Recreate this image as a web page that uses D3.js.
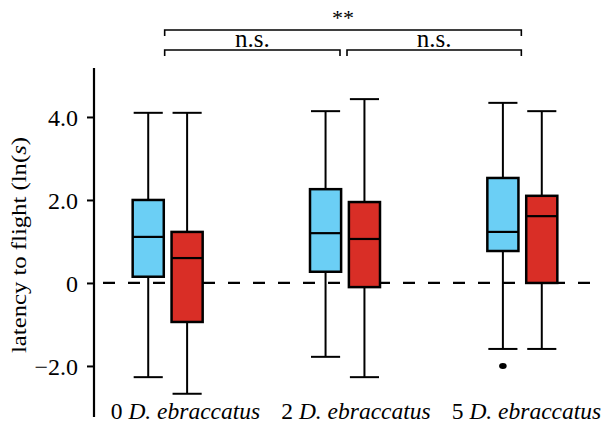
<!DOCTYPE html>
<html><head><meta charset="utf-8">
<script src="https://cdn.jsdelivr.net/npm/d3@7"></script>
<style>body{margin:0;background:#fff}svg{display:block}</style>
</head><body><svg id="c" width="608" height="425"></svg>
<script>
const groups = ["0", "2", "5"];
const series = ["blue", "red"];
const colors = {blue: "#6bcff5", red: "#d92e26"};
// [lowerWhisker, q1, median, q3, upperWhisker]
const blueStats = [[-2.27, 0.15, 1.11, 2.0, 4.1], [-1.78, 0.27, 1.2, 2.26, 4.14], [-1.59, 0.77, 1.23, 2.53, 4.34]];
const redStats  = [[-2.67, -0.94, 0.6, 1.23, 4.1], [-2.27, -0.1, 1.06, 1.95, 4.43], [-1.59, 0.0, 1.61, 2.1, 4.14]];
const outliers = [{g: "5", s: "blue", v: -2.0}];
const yTicks = [-2, 0, 2, 4];
const yTickLabels = ["\u22122.0", "0", "2.0", "4.0"];
const brackets = [{a: "0", b: "5", label: "**", level: 0}, {a: "0", b: "2", label: "n.s.", level: 1}, {a: "2", b: "5", label: "n.s.", level: 1}];

const FONT = "'Liberation Serif', 'DejaVu Serif', 'Times New Roman', serif";
const svg = d3.select("#c").attr("font-family", FONT).style("font-family", FONT);
const y = d3.scaleLinear().domain([-3.23, 5.18]).range([417, 68]);
const x = d3.scaleBand().domain(groups).range([78, 610]).paddingInner(0.0).paddingOuter(0);
const xs = d3.scaleBand().domain(series).range([-34, 36]).paddingInner(0.2);
const xl = d3.scalePoint().domain(groups).range([185.5, 526.5]);
const cx = g => x(g) + x.bandwidth() / 2;

// y axis
const ax = svg.append("g").attr("transform", "translate(94,0)")
  .call(d3.axisLeft(y).tickValues(yTicks).tickSize(7).tickPadding(9).tickFormat((d, i) => yTickLabels[i]));
ax.attr("font-family", FONT).attr("font-size", null);
ax.select(".domain").attr("d", `M0,${y.range()[0]}V${y.range()[1]}`).attr("stroke-width", 2.2);
ax.selectAll(".tick line").attr("stroke-width", 2);
ax.selectAll(".tick text").style("font-size", "24px").style("font-family", FONT).attr("dy", "0.36em");

// dashed zero line
svg.append("line").attr("x1", 103).attr("x2", 596).attr("y1", y(0)).attr("y2", y(0))
  .attr("stroke", "#000").attr("stroke-width", 2.2).attr("stroke-dasharray", "12,13");

// boxes
function drawBox(stats, s) {
  stats.forEach((st, i) => {
    const g = groups[i];
    const x0 = cx(g) + xs(s), w = xs.bandwidth();
    const gg = svg.append("g");
    gg.append("line").attr("x1", x0 + w / 2).attr("x2", x0 + w / 2).attr("y1", y(st[0])).attr("y2", y(st[4]))
      .attr("stroke", "#000").attr("stroke-width", 2);
    [st[0], st[4]].forEach(v => gg.append("line").attr("x1", x0 + 1).attr("x2", x0 + w - 1)
      .attr("y1", y(v)).attr("y2", y(v)).attr("stroke", "#000").attr("stroke-width", 2));
    gg.append("rect").attr("x", x0).attr("width", w).attr("y", y(st[3])).attr("height", y(st[1]) - y(st[3]))
      .attr("fill", colors[s]).attr("stroke", "#000").attr("stroke-width", 2.5);
    gg.append("line").attr("x1", x0).attr("x2", x0 + w).attr("y1", y(st[2])).attr("y2", y(st[2]))
      .attr("stroke", "#000").attr("stroke-width", 2.2);
  });
}
drawBox(blueStats, "blue");
drawBox(redStats, "red");
outliers.forEach(o => {
  svg.append("ellipse").attr("cx", cx(o.g) + xs(o.s) + xs.bandwidth() / 2).attr("cy", y(o.v))
    .attr("rx", 3.8).attr("ry", 3).attr("fill", "#000");
});

// x labels
groups.forEach(g => {
  const t = svg.append("text").attr("x", xl(g)).attr("y", 419).attr("text-anchor", "middle")
    .style("font-family", FONT).style("font-size", "23.5px");
  t.append("tspan").text(g + " ");
  t.append("tspan").style("font-style", "italic").text("D. ebraccatus");
});

// y title
const yt = svg.append("text").attr("transform", "translate(26,245) rotate(-90)").attr("text-anchor", "middle")
  .attr("textLength", 216).attr("lengthAdjust", "spacingAndGlyphs")
  .style("font-family", FONT).style("font-size", "21px");
yt.append("tspan").text("latency to flight (ln(");
yt.append("tspan").style("font-style", "italic").text("s");
yt.append("tspan").text(")");

// brackets
brackets.forEach(b => {
  const by = b.level === 0 ? 30 : 50;
  let xa = cx(b.a) - 2, xb = cx(b.b);
  if (b.level === 1) { if (b.a === "2") xa = cx(b.a) + 3; if (b.b === "2") xb = cx(b.b) - 4; }
  svg.append("path").attr("d", `M${xa},${by + 6}V${by}H${xb}V${by + 6}`).attr("fill", "none").attr("stroke", "#000").attr("stroke-width", 1.6);
  svg.append("text").attr("x", (xa + xb) / 2).attr("y", b.level === 0 ? 25 : 47).attr("text-anchor", "middle")
    .style("font-family", FONT).style("font-size", b.level === 0 ? "22px" : "25px").text(b.label);
});
</script></body></html>
